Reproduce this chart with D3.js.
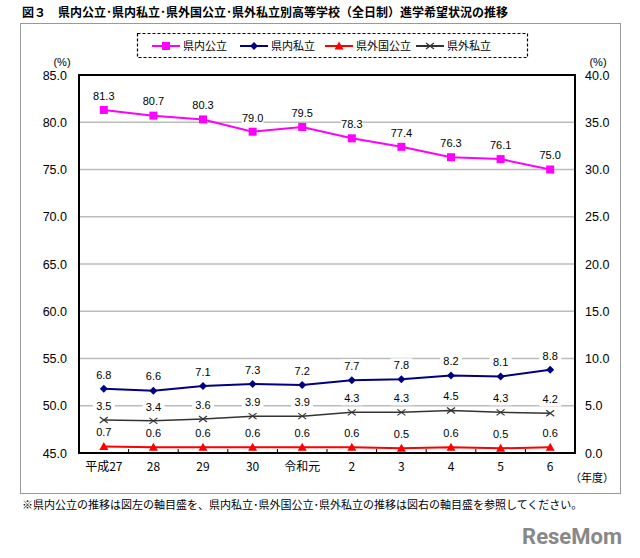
<!DOCTYPE html>
<html>
<head>
<meta charset="utf-8">
<script src="https://cdn.jsdelivr.net/npm/d3@7"></script>
<style>
  body { margin: 0; background: #fff; }
  svg { display: block; font-family: 'Liberation Sans', 'Noto Sans CJK JP', sans-serif; }
  .jp { font-family: 'Noto Sans CJK JP', sans-serif; }
</style>
</head>
<body>
<svg id="chart" width="640" height="558"></svg>
<script>
const years = ['平成27', '28', '29', '30', '令和元', '2', '3', '4', '5', '6']
const inPublic = [81.3, 80.7, 80.3, 79.0, 79.5, 78.3, 77.4, 76.3, 76.1, 75.0]
const inPrivate = [6.8, 6.6, 7.1, 7.3, 7.2, 7.7, 7.8, 8.2, 8.1, 8.8]
const outPublic = [0.7, 0.6, 0.6, 0.6, 0.6, 0.6, 0.5, 0.6, 0.5, 0.6]
const outPrivate = [3.5, 3.4, 3.6, 3.9, 3.9, 4.3, 4.3, 4.5, 4.3, 4.2]
const leftTicks = [45, 50, 55, 60, 65, 70, 75, 80, 85]
const rightTicks = [0, 5, 10, 15, 20, 25, 30, 35, 40]

const series = [
  { name: '県内公立', values: inPublic, axis: 'left', color: '#ff00ff', marker: 'square' },
  { name: '県内私立', values: inPrivate, axis: 'right', color: '#000080', marker: 'diamond' },
  { name: '県外国公立', values: outPublic, axis: 'right', color: '#ff0000', marker: 'triangle' },
  { name: '県外私立', values: outPrivate, axis: 'right', color: '#333333', marker: 'cross' }
]

const svg = d3.select('#chart')
const m = { left: 79, right: 575, top: 75, bottom: 453 }

const x = d3.scaleBand().domain(years).range([m.left, m.right])
const yL = d3.scaleLinear().domain([45, 85]).range([m.bottom, m.top])
const yR = d3.scaleLinear().domain([0, 40]).range([m.bottom, m.top])

// title
svg.append('text')
  .attr('class', 'jp')
  .attr('x', 22).attr('y', 17)
  .style('font-size', '12px').style('font-weight', 'bold')
  .text('図３　県内公立･県内私立･県外国公立･県外私立別高等学校（全日制）進学希望状況の推移')

// outer frame
svg.append('rect')
  .attr('x', 20.5).attr('y', 23.5).attr('width', 600).attr('height', 470)
  .attr('fill', 'none').attr('stroke', '#999').attr('stroke-width', 1)

// gridlines
svg.append('g')
  .selectAll('line')
  .data(leftTicks.slice(1, -1))
  .enter().append('line')
  .attr('x1', m.left).attr('x2', m.right)
  .attr('y1', (d) => yL(d)).attr('y2', (d) => yL(d))
  .attr('stroke', '#bbbbbb').attr('stroke-width', 1.5)

// left axis
const leftAxis = svg.append('g')
  .attr('transform', `translate(${m.left},0)`)
  .call(d3.axisLeft(yL).tickValues(leftTicks).tickFormat(d3.format('.1f')).tickSize(0).tickPadding(12))
leftAxis.select('.domain').remove()
leftAxis.selectAll('text').style('font-size', '12.5px').attr('fill', '#000')

// right axis
const rightAxis = svg.append('g')
  .attr('transform', `translate(${m.right},0)`)
  .call(d3.axisRight(yR).tickValues(rightTicks).tickFormat(d3.format('.1f')).tickSize(0).tickPadding(10))
rightAxis.select('.domain').remove()
rightAxis.selectAll('text').style('font-size', '12.5px').attr('fill', '#000')

// bottom axis
const bottomAxis = svg.append('g')
  .attr('transform', `translate(0,${m.bottom})`)
  .call(d3.axisBottom(x).tickSize(0).tickPadding(9))
bottomAxis.select('.domain').remove()
bottomAxis.selectAll('text').attr('class', 'jp').style('font-size', '12px').attr('fill', '#000')

// band boundary ticks
svg.append('g')
  .selectAll('line')
  .data(years.slice(1))
  .enter().append('line')
  .attr('x1', (d) => x(d)).attr('x2', (d) => x(d))
  .attr('y1', m.bottom).attr('y2', m.bottom - 4)
  .attr('stroke', '#000').attr('stroke-width', 1)

// plot border
svg.append('rect')
  .attr('x', m.left).attr('y', m.top)
  .attr('width', m.right - m.left).attr('height', m.bottom - m.top)
  .attr('fill', 'none').attr('stroke', '#000').attr('stroke-width', 2)

svg.append('text').attr('x', 62).attr('y', 66).attr('text-anchor', 'middle')
  .style('font-size', '11px').text('(%)')
svg.append('text').attr('x', 598).attr('y', 66).attr('text-anchor', 'middle')
  .style('font-size', '11px').text('(%)')
svg.append('text').attr('class', 'jp').attr('x', 592).attr('y', 482).attr('text-anchor', 'middle')
  .style('font-size', '11px').text('（年度）')

function drawMarker(g, type, color) {
  if (type === 'square') {
    g.append('rect').attr('x', -4).attr('y', -4).attr('width', 8).attr('height', 8).attr('fill', color)
  } else if (type === 'diamond') {
    g.append('path').attr('d', 'M0,-4L4,0L0,4L-4,0Z').attr('fill', color)
  } else if (type === 'triangle') {
    g.append('path').attr('d', 'M0,-4.5L4.5,3.5L-4.5,3.5Z').attr('fill', color)
  } else {
    g.append('path').attr('d', 'M-4,-3L4,3M-4,3L4,-3').attr('stroke', color).attr('stroke-width', 1.2)
  }
}

const cx = (i) => x(years[i]) + x.bandwidth() / 2

series.forEach((s) => {
  const y = s.axis === 'left' ? yL : yR
  const line = d3.line().x((d, i) => cx(i)).y((d) => y(d))
  const g = svg.append('g')
  g.append('path')
    .datum(s.values)
    .attr('d', line)
    .attr('fill', 'none')
    .attr('stroke', s.color)
    .attr('stroke-width', s.marker === 'cross' ? 1.5 : 2)

  s.values.forEach((v, i) => {
    drawMarker(g.append('g').attr('transform', `translate(${cx(i)},${y(v)})`), s.marker, s.color)
  })

  // value labels with white background
  const lab = svg.append('g')
  s.values.forEach((v, i) => {
    const t = lab.append('g').attr('transform', `translate(${cx(i)},${y(v) - 14})`)
    t.append('rect').attr('x', -11).attr('y', -7).attr('width', 22).attr('height', 14).attr('fill', '#fff')
    t.append('text').attr('text-anchor', 'middle').attr('dy', '0.35em')
      .style('font-size', '11px').text(d3.format('.1f')(v))
  })
})

// legend
svg.append('rect')
  .attr('x', 137.5).attr('y', 33.5).attr('width', 390).attr('height', 24)
  .attr('fill', '#fff').attr('stroke', '#000').attr('stroke-width', 1.2)
  .attr('stroke-dasharray', '3,2')
const legendX = [152, 240, 325, 416]
series.forEach((s, i) => {
  const g = svg.append('g').attr('transform', `translate(${legendX[i]},46)`)
  g.append('line').attr('x1', 0).attr('x2', 28).attr('stroke', s.color).attr('stroke-width', 2)
  drawMarker(g.append('g').attr('transform', 'translate(14,0)'), s.marker, s.color)
  g.append('text').attr('class', 'jp').attr('x', 31).attr('dy', '0.35em')
    .style('font-size', '11px').text(s.name)
})

// footnote
svg.append('text').attr('class', 'jp').attr('x', 22).attr('y', 509)
  .style('font-size', '11px')
  .text('※県内公立の推移は図左の軸目盛を、県内私立･県外国公立･県外私立の推移は図右の軸目盛を参照してください。')

// logo
svg.append('text').attr('x', 622).attr('y', 544).attr('text-anchor', 'end')
  .style('font-family', 'Roboto, sans-serif').style('font-weight', 'bold')
  .style('font-size', '22px').attr('fill', '#888').text('ReseMom')
</script>
</body>
</html>
